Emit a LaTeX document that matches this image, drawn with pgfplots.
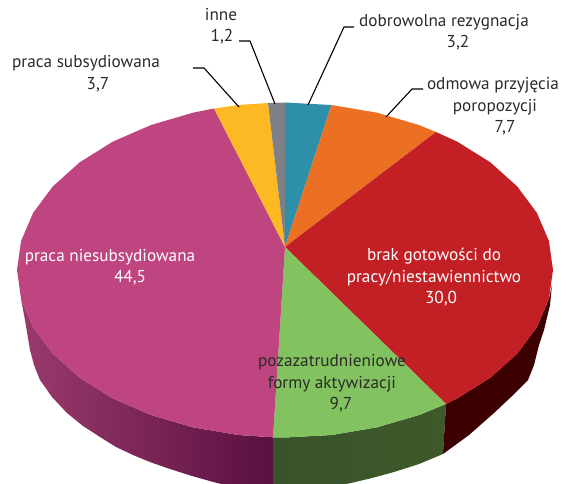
\documentclass[border=0pt]{standalone}
\usepackage{pgfplots}
\pgfplotsset{compat=1.18}
\usepackage{fontspec}
\setmainfont{PT Sans}
\definecolor{cpink}{HTML}{BE4580}
\definecolor{cyellow}{HTML}{FDB924}
\definecolor{cgrey}{HTML}{7F7F86}
\definecolor{cteal}{HTML}{2D8FA8}
\definecolor{corange}{HTML}{EC7024}
\definecolor{cred}{HTML}{C32026}
\definecolor{cgreen}{HTML}{82C35F}
\definecolor{ctext}{HTML}{2B2A29}
\definecolor{spinkL}{HTML}{9A3A6C}
\definecolor{spinkR}{HTML}{5A1040}
\definecolor{sgreenL}{HTML}{38522A}
\definecolor{sgreenR}{HTML}{3E5A2A}
\definecolor{sred}{HTML}{3D0000}
\tikzset{
  lab/.style={font=\fontsize{17.2pt}{18pt}\selectfont, text=ctext, inner sep=0pt, anchor=center},
  wlab/.style={lab, text=white},
  lead/.style={draw=black, line width=1.1pt},
}
\begin{document}
\begin{tikzpicture}
\begin{axis}[
  scale only axis, width=561pt, height=483pt,
  xmin=0, xmax=561, ymin=0, ymax=483, y dir=reverse,
  axis lines=none, clip=true,
]
\path[use as bounding box] (axis cs:0,0) rectangle (axis cs:561,483);
% side walls
\addplot[draw=none, left color=spinkL, right color=spinkR, no markers] coordinates {
 (21,299)(33.2,327.3)(52.9,353.8)(79.7,377.7)(112.7,398.3)(151,415)(193.3,427.4)(238.5,435)(273,437.3)
 (273,495)(217,483)(192,476)(167,468)(150,462)(133,455)(116,447)(100,437)(83,426)(67,413)(52,397)(40,380)(34,365)(30,350)(25,320)} --cycle;
\addplot[draw=none, left color=sgreenL, right color=sgreenR, no markers] coordinates {
 (273,437.3)(285,437.5)(331.5,435)(376.7,427.4)(419,415)(446,404)
 (443,454)(419,464)(394,472)(372,478)(351,483)(312,491)(273,495)} --cycle;
\addplot[draw=none, fill=sred, no markers] coordinates {
 (446,404)(457.3,398.3)(490.3,377.7)(517.1,353.8)(536.8,327.3)(548.9,299.1)(552,285)
 (550,305)(544,330)(539,345)(534,365)(528,380)(511,397)(494,413)(469,435)(443,454)} --cycle;
% top sectors
\addplot[draw=none, fill=cteal, no markers] coordinates {
 (285,247)(285,102.5)(331.5,105)} --cycle;
\addplot[draw=none, fill=corange, no markers] coordinates {
 (285,247)(331.5,105)(376.7,112.6)(419,125)(436,132)} --cycle;
\addplot[draw=none, fill=cred, no markers] coordinates {
 (285,247)(436,132)(457.3,141.7)(490.3,162.3)(517.1,186.3)(536.8,212.7)(548.9,240.9)(553,270)(548.9,299.1)(536.8,327.3)(517.1,353.8)(490.3,377.7)(457.3,398.3)(446,404)} --cycle;
\addplot[draw=none, fill=cgreen, no markers] coordinates {
 (285,247)(446,404)(419,415)(376.7,427.4)(331.5,435)(285,437.5)(273,437.3)} --cycle;
\addplot[draw=none, fill=cpink, no markers] coordinates {
 (285,247)(273,437.3)(238.5,435)(193.3,427.4)(151,415)(112.7,398.3)(79.7,377.7)(52.9,353.8)(33.2,327.3)(21.1,299.1)(17,270)(21.1,240.9)(33.2,212.7)(52.9,186.3)(79.7,162.3)(112.7,141.7)(151,125)(193.3,112.6)(214,108.5)} --cycle;
\addplot[draw=none, fill=cyellow, no markers] coordinates {
 (285,247)(214,108.5)(238.5,105)(268,103)} --cycle;
\addplot[draw=none, fill=cgrey, no markers] coordinates {
 (285,247)(268,103)(285,102.5)} --cycle;
% leader lines
\addplot[lead, no markers] coordinates {(239,41)(250,41)(275,104)};
\addplot[lead, no markers] coordinates {(354,27)(344,27)(308,105)};
\addplot[lead, no markers] coordinates {(193,68)(204,68)(239,107)};
\addplot[lead, no markers] coordinates {(423,89)(412,89)(386,117)};
% labels
\node[lab] at (axis cs:221,15) {inne};
\node[lab] at (axis cs:222,37) {1,2};
\node[lab] at (axis cs:444,22) {dobrowolna rezygnacja};
\node[lab] at (axis cs:458,43) {3,2};
\node[lab] at (axis cs:86,63) {praca subsydiowana};
\node[lab] at (axis cs:98,85) {3,7};
\node[lab] at (axis cs:493,85) {odmowa przyjęcia};
\node[lab] at (axis cs:495,107) {poropozycji};
\node[lab] at (axis cs:505,128) {7,7};
\node[wlab] at (axis cs:110,257) {praca niesubsydiowana};
\node[wlab] at (axis cs:130,278) {44,5};
\node[wlab] at (axis cs:434,256) {brak gotowości do};
\node[wlab] at (axis cs:434,278) {pracy/niestawiennictwo};
\node[wlab] at (axis cs:441,299) {30,0};
\node[lab] at (axis cs:332,362) {pozazatrudnieniowe};
\node[lab] at (axis cs:332,384) {formy aktywizacji};
\node[lab] at (axis cs:341,405) {9,7};
\end{axis}
\end{tikzpicture}
\end{document}
